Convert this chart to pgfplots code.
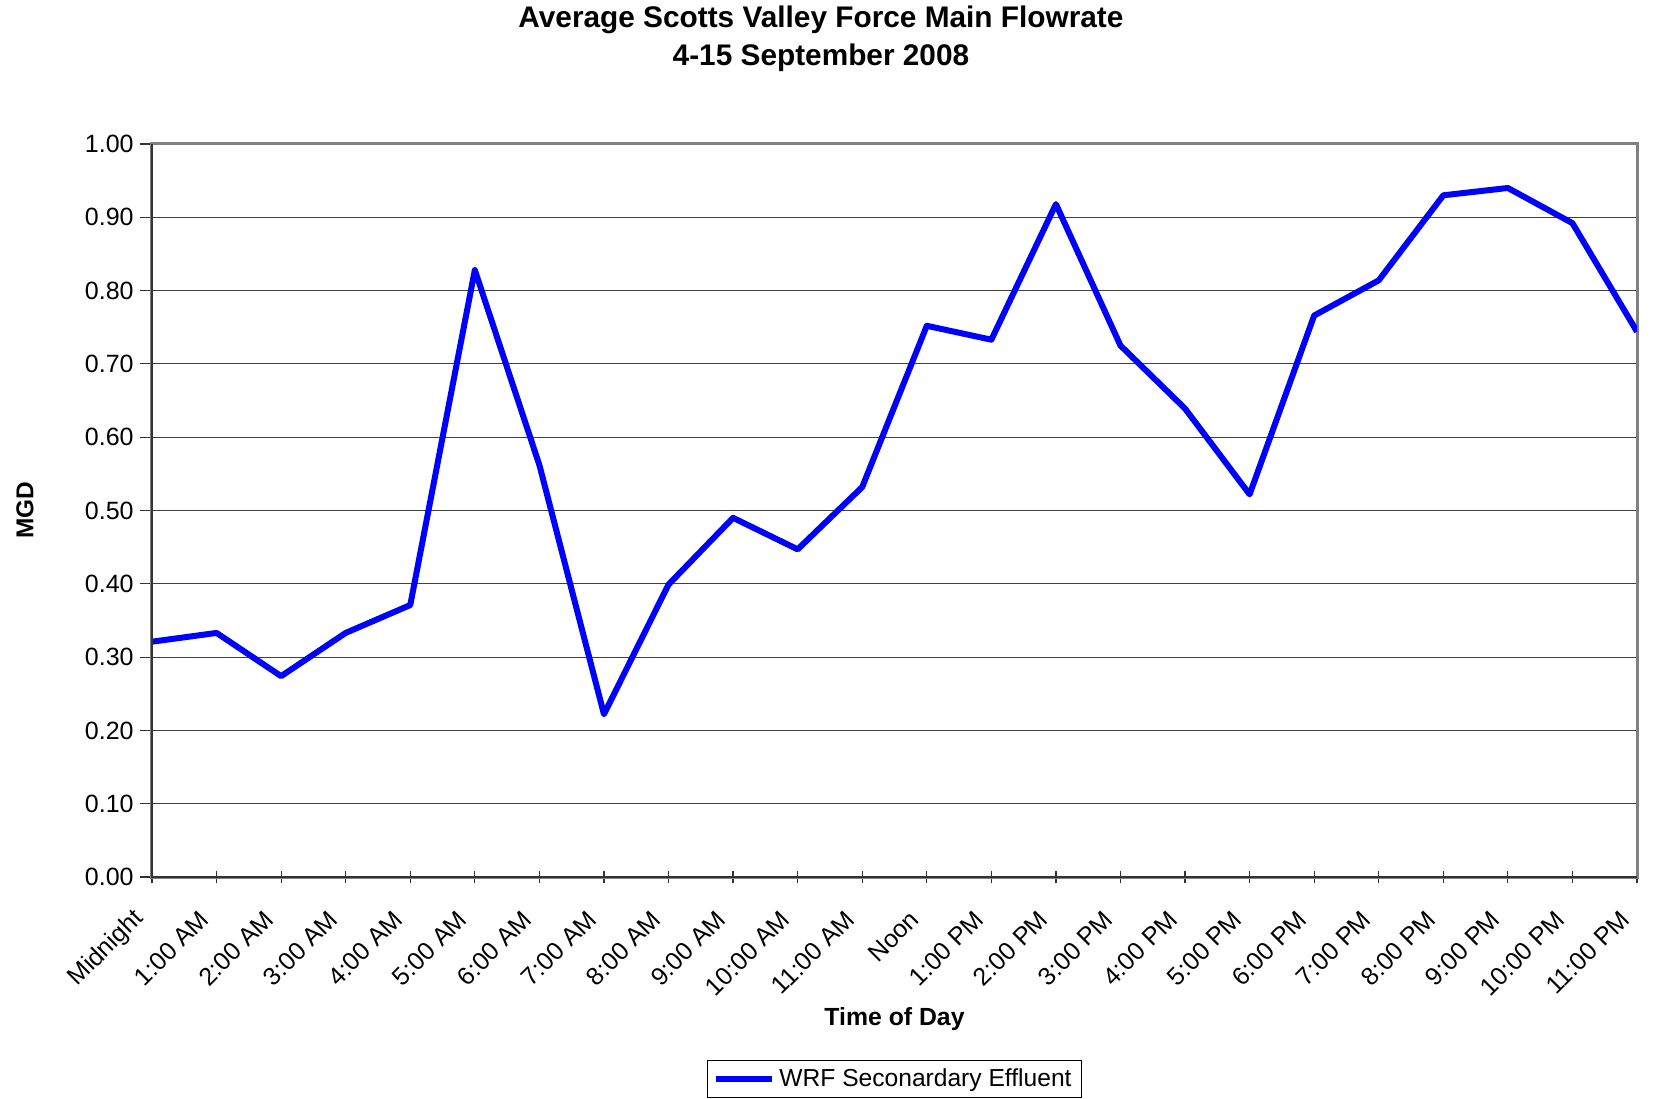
\documentclass[border=0pt]{standalone}
\usepackage{pgfplots}
\pgfplotsset{compat=1.18}
\usepackage{fontspec}
\setmainfont{Liberation Sans}

% hourly average flow, MGD
\pgfplotstableread{
hr  mgd
0   0.321
1   0.333
2   0.274
3   0.333
4   0.371
5   0.828
6   0.562
7   0.222
8   0.399
9   0.490
10  0.447
11  0.532
12  0.752
13  0.733
14  0.918
15  0.725
16  0.639
17  0.522
18  0.766
19  0.814
20  0.930
21  0.940
22  0.892
23  0.744
}\flowdata

\begin{document}
\begin{tikzpicture}
\begin{axis}[
  scale only axis,
  width=742.5pt, height=366.5pt,
  xmin=0, xmax=23,
  ymin=0, ymax=1,
  xtick={0,...,23},
  xticklabels={Midnight,1:00 AM,2:00 AM,3:00 AM,4:00 AM,5:00 AM,6:00 AM,7:00 AM,8:00 AM,9:00 AM,10:00 AM,11:00 AM,Noon,1:00 PM,2:00 PM,3:00 PM,4:00 PM,5:00 PM,6:00 PM,7:00 PM,8:00 PM,9:00 PM,10:00 PM,11:00 PM},
  ytick distance=0.1,
  xtick pos=lower, ytick pos=left,
  xtick align=center, ytick align=outside,
  major tick length=6pt,
  tick style={black!80, line width=0.6pt},
  ymajorgrids,
  grid style={black!75, line width=0.55pt},
  axis line style={draw=gray, line width=1.5pt},
  tick label style={font=\fontsize{12.5}{14}\selectfont},
  /pgf/number format/assume math mode=true,
  yticklabel={\pgfmathprintnumber[fixed,fixed zerofill,precision=2]{\tick}},
  yticklabel style={anchor=east, inner sep=0pt, xshift=-3pt},
  xticklabel style={xshift=-6pt, rotate=45, anchor=east, inner sep=0pt},
  xticklabel shift=16pt,
  xlabel={\textbf{Time of Day}},
  xlabel style={font=\fontsize{12.4}{14}\selectfont, at={(0.5,-0.2019)}, anchor=base},
  ylabel={\textbf{MGD}},
  ylabel style={font=\fontsize{12.2}{14}\selectfont, at={(-0.0855,0.5)}, anchor=center},
  legend style={at={(0.5,-0.2497)}, anchor=north, draw=black, line width=0.5pt,
    font=\fontsize{12.3}{14}\selectfont, inner xsep=3pt, inner ysep=2pt},
  legend image code/.code={\draw[#1] (0pt,0pt) -- (28pt,0pt);},
]
\addplot[color={rgb,255:red,0;green,0;blue,255}, line width=3pt, line join=round] table[x=hr, y=mgd] {\flowdata};
\addlegendentry{WRF Seconardary Effluent}
\end{axis}
\draw[black!80, line width=1pt] (current axis.north west) -- (current axis.south west) -- (current axis.south east);
\node[anchor=base, font=\fontsize{14.9}{17}\selectfont\bfseries] at ([xshift=334.5pt, yshift=58pt]current axis.north west) {Average Scotts Valley Force Main Flowrate};
\node[anchor=base, font=\fontsize{14.9}{17}\selectfont\bfseries] at ([xshift=334.5pt, yshift=39pt]current axis.north west) {4-15 September 2008};
\pgfresetboundingbox
\path ([xshift=-76pt, yshift=-110.5pt]current axis.south west) rectangle ([xshift=8.5pt, yshift=72pt]current axis.north east);
\end{tikzpicture}
\end{document}
